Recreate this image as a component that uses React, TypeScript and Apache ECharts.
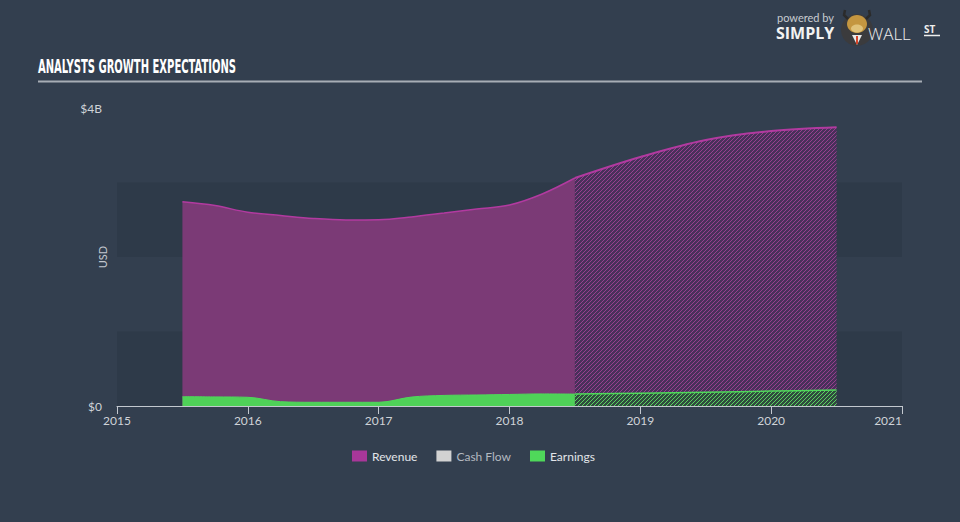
import React, { useEffect, useRef } from "react";
import * as echarts from "echarts";

const actualDates = [2015.5, 2015.75, 2016, 2016.25, 2016.5, 2016.75, 2017, 2017.25, 2017.5, 2017.75, 2018, 2018.25, 2018.5];
const revenueActual = [2.74, 2.69, 2.6, 2.557, 2.517, 2.497, 2.5, 2.537, 2.59, 2.644, 2.698, 2.846, 3.06];
const earningsActual = [0.125, 0.122, 0.117, 0.058, 0.05, 0.05, 0.05, 0.12, 0.142, 0.148, 0.155, 0.162, 0.16];

const estimatedDates = [2018.5, 2019, 2019.5, 2020, 2020.5];
const revenueEstimated = [3.06, 3.342, 3.57, 3.69, 3.74];
const earningsEstimated = [0.16, 0.172, 0.186, 0.2, 0.215];

const xTicks = [2015, 2016, 2017, 2018, 2019, 2020, 2021];
const legendNames = ["Revenue", "Cash Flow", "Earnings"];
const periodLabels = ["Actual", "Estimated"];

const BG = "#333f4f";
const FONT = "Lato, 'Open Sans', sans-serif";

function zip(xs: number[], ys: number[]) {
  return xs.map((x, i) => [x, ys[i]]);
}

function makeHatch(base: string, stripe: string, size: number, lw: number) {
  const c = document.createElement("canvas");
  c.width = size;
  c.height = size;
  const ctx = c.getContext("2d")!;
  ctx.fillStyle = base;
  ctx.fillRect(0, 0, size, size);
  ctx.strokeStyle = stripe;
  ctx.lineWidth = lw;
  ctx.beginPath();
  ctx.moveTo(-1, 1);
  ctx.lineTo(1, -1);
  ctx.moveTo(0, size);
  ctx.lineTo(size, 0);
  ctx.moveTo(size - 1, size + 1);
  ctx.lineTo(size + 1, size - 1);
  ctx.stroke();
  return { image: c.toDataURL(), repeat: "repeat", imageWidth: size, imageHeight: size };
}

function measure(text: string, font: string) {
  const c = document.createElement("canvas");
  const ctx = c.getContext("2d")!;
  ctx.font = font;
  return ctx.measureText(text).width;
}

export default function App() {
  const ref = useRef<HTMLDivElement>(null);

  useEffect(() => {
    document.body.style.margin = "0";
    document.body.style.background = BG;
    const chart = echarts.init(ref.current!, null, { renderer: "svg" });

    const purpleHatch = makeHatch("#48305a", "#96408e", 4, 1);
    const greenHatch = makeHatch("#2f4b3e", "#5ad160", 4, 1);

    const titleText = "ANALYSTS GROWTH EXPECTATIONS";
    const titleFontSize = 20;
    const titleFamily = "'DejaVu Sans Condensed', 'DejaVu Sans', sans-serif";
    const titleW = measure(titleText, `bold ${titleFontSize}px ${titleFamily}`) || 360;
    const titleScale = 198 / titleW;

    const option: any = {
      animation: false,
      backgroundColor: BG,
      textStyle: { fontFamily: FONT },
      grid: { left: 117, right: 58, top: 108, bottom: 116, containLabel: false },
      xAxis: {
        type: "value",
        min: xTicks[0],
        max: xTicks[xTicks.length - 1],
        interval: 1,
        axisLine: { show: true, lineStyle: { color: "#c3c8cf", width: 1 } },
        axisTick: { show: true, length: 8, lineStyle: { color: "#c3c8cf" } },
        axisLabel: {
          color: "#cfd3d8",
          fontSize: 12,
          margin: 8,
          fontFamily: FONT,
          alignMaxLabel: "right",
          formatter: (v: number) => String(v),
        },
        splitLine: { show: false },
      },
      yAxis: {
        type: "value",
        min: 0,
        max: 4,
        interval: 1,
        name: "USD",
        nameLocation: "middle",
        nameGap: 9,
        nameMoveOverlap: false,
        nameTextStyle: { color: "#c3c8cf", fontSize: 11, fontFamily: FONT },
        axisLine: { show: false },
        axisTick: { show: false },
        axisLabel: {
          color: "#cfd3d8",
          fontSize: 12,
          margin: 15,
          fontFamily: FONT,
          formatter: (v: number) => (v === 0 ? "$0" : v === 4 ? "$4B" : ""),
        },
        splitLine: { show: false },
        splitArea: { show: true, areaStyle: { color: ["#2e3a49", "rgba(0,0,0,0)"] } },
      },
      legend: {
        left: 347,
        top: 445,
        icon: "rect",
        itemWidth: 15,
        itemHeight: 11,
        itemGap: 19,
        textStyle: { color: "#e2e5e9", fontSize: 12, fontFamily: FONT },
        data: [
          { name: legendNames[0], itemStyle: { color: "#a83799" } },
          { name: legendNames[1], itemStyle: { color: "#d2d2d2" }, textStyle: { color: "#b4b9c0" } },
          { name: legendNames[2], itemStyle: { color: "#4fd85a" } },
        ],
      },
      series: [
        {
          name: legendNames[0],
          type: "line",
          data: zip(actualDates, revenueActual),
          smooth: 0.35,
          showSymbol: false,
          lineStyle: { color: "#b23aa0", width: 1.5 },
          itemStyle: { color: "#a83799" },
          areaStyle: { color: "#7b3a76", opacity: 1 },
        },
        {
          name: legendNames[0],
          type: "line",
          data: zip(estimatedDates, revenueEstimated),
          smooth: 0.35,
          showSymbol: false,
          lineStyle: { color: "#b23aa0", width: 2 },
          itemStyle: { color: "#a83799" },
          areaStyle: { color: purpleHatch, opacity: 1 },
        },
        {
          name: legendNames[1],
          type: "line",
          data: [],
          itemStyle: { color: "#d2d2d2" },
        },
        {
          name: legendNames[2],
          type: "line",
          data: zip(actualDates, earningsActual),
          smooth: 0.35,
          showSymbol: false,
          lineStyle: { color: "#4fd85a", width: 1 },
          itemStyle: { color: "#4fd85a" },
          areaStyle: { color: "#4fd158", opacity: 1 },
        },
        {
          name: legendNames[2],
          type: "line",
          data: zip(estimatedDates, earningsEstimated),
          smooth: 0.35,
          showSymbol: false,
          lineStyle: { color: "#4fd85a", width: 1.5 },
          itemStyle: { color: "#4fd85a" },
          areaStyle: { color: greenHatch, opacity: 1 },
        },
      ],
      graphic: [
        {
          type: "text",
          left: 38,
          top: 56,
          scaleX: titleScale,
          style: {
            text: titleText,
            fill: "#ffffff",
            fontSize: titleFontSize,
            fontWeight: "bold",
            fontFamily: titleFamily,
          },
        },
        {
          type: "line",
          shape: { x1: 38, y1: 81.5, x2: 922, y2: 81.5 },
          style: { stroke: "#a7adb5", lineWidth: 2 },
        },
        {
          type: "text",
          x: 378,
          y: 272,
          style: {
            text: periodLabels[0],
            fill: "#e4e4e8",
            fontSize: 12,
            fontFamily: FONT,
            align: "center",
            verticalAlign: "middle",
            backgroundColor: "rgba(38,22,42,0.85)",
            padding: [4, 3, 4, 3],
          },
        },
        {
          type: "text",
          x: 705,
          y: 272,
          style: {
            text: periodLabels[1],
            fill: "#e4e4e8",
            fontSize: 12,
            fontFamily: FONT,
            align: "center",
            verticalAlign: "middle",
            backgroundColor: "rgba(30,20,35,0.85)",
            padding: [4, 3, 4, 3],
          },
        },
        // logo
        {
          type: "text",
          x: 777,
          y: 17,
          style: { text: "powered by", fill: "#c8ccd1", fontSize: 11, fontFamily: FONT, verticalAlign: "middle" },
        },
        {
          type: "text",
          x: 776,
          y: 33,
          style: {
            text: "SIMPLY",
            fill: "#f2f2f2",
            fontSize: 16,
            fontWeight: "bold",
            fontFamily: "'Open Sans', sans-serif",
            verticalAlign: "middle",
          },
        },
        {
          type: "circle",
          shape: { cx: 857, cy: 30, r: 16 },
          style: { fill: "#3b3b3d" },
        },
        {
          type: "polygon",
          shape: { points: [[852, 35], [862, 35], [857, 45]] },
          style: { fill: "#e8e8e8" },
        },
        {
          type: "line",
          shape: { x1: 857, y1: 36, x2: 857, y2: 44 },
          style: { stroke: "#d4442a", lineWidth: 2 },
        },
        {
          type: "ellipse",
          shape: { cx: 857, cy: 24, rx: 10, ry: 9 },
          style: { fill: "#c49640" },
        },
        {
          type: "ellipse",
          shape: { cx: 857, cy: 28.5, rx: 6, ry: 4 },
          style: { fill: "#e0c27a" },
        },
        {
          type: "polyline",
          shape: { points: [[848, 19], [844, 15], [845, 10]] },
          style: { stroke: "#2b2b2b", lineWidth: 2.5, fill: "none" },
        },
        {
          type: "polyline",
          shape: { points: [[866, 19], [870, 15], [869, 10]] },
          style: { stroke: "#2b2b2b", lineWidth: 2.5, fill: "none" },
        },
        {
          type: "text",
          x: 868,
          y: 33,
          style: {
            text: "WALL",
            fill: "#eeeeee",
            fontSize: 17,
            fontWeight: 300,
            fontFamily: "'Open Sans', sans-serif",
            verticalAlign: "middle",
          },
        },
        {
          type: "text",
          x: 924,
          y: 29,
          style: {
            text: "ST",
            fill: "#eeeeee",
            fontSize: 10,
            fontWeight: "bold",
            fontFamily: "'Open Sans', sans-serif",
            verticalAlign: "middle",
          },
        },
        {
          type: "line",
          shape: { x1: 924, y1: 35.5, x2: 940, y2: 35.5 },
          style: { stroke: "#eeeeee", lineWidth: 1.5 },
        },
      ],
    };

    chart.setOption(option);
    return () => chart.dispose();
  }, []);

  return (
    <div
      ref={ref}
      style={{ position: "fixed", left: 0, top: 0, width: 960, height: 522, background: BG }}
    />
  );
}
